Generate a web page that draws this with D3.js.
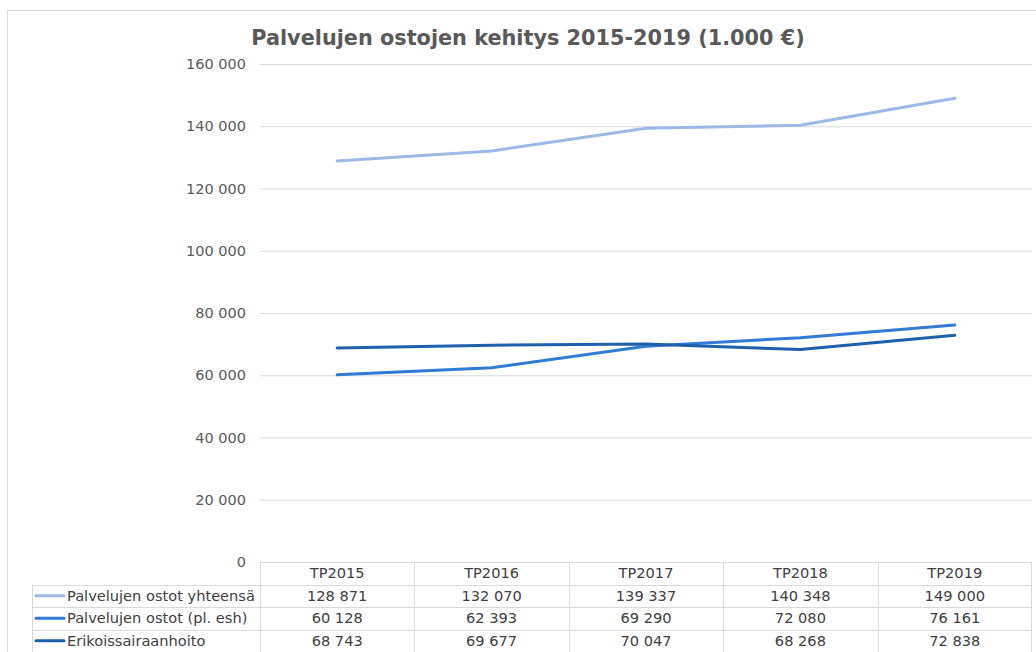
<!DOCTYPE html>
<html>
<head>
<meta charset="utf-8">
<script src="https://cdn.jsdelivr.net/npm/d3@7"></script>
<style>
  body { margin: 0; background: #fff; }
  svg { display: block; font-family: "DejaVu Sans", Verdana, sans-serif; }
</style>
</head>
<body>
<svg id="chart" width="1036" height="652"></svg>
<script>
// data
var years = ["TP2015", "TP2016", "TP2017", "TP2018", "TP2019"];
var seriesNames = ["Palvelujen ostot yhteensä", "Palvelujen ostot (pl. esh)", "Erikoissairaanhoito"];
var yhteensa = [128871, 132070, 139337, 140348, 149000];
var plEsh = [60128, 62393, 69290, 72080, 76161];
var erikois = [68743, 69677, 70047, 68268, 72838];
var seriesColors = ["#9db8e5", "#2f7bd5", "#1f60ad"];
var yTicks = [0, 20000, 40000, 60000, 80000, 100000, 120000, 140000, 160000];

var allSeries = [yhteensa, plEsh, erikois];

var svg = d3.select("#chart");
var plotLeft = 260, plotRight = 1032, plotTop = 64, plotBottom = 562;
var rowH = 22.5;

var fmt = function(v) { return d3.format(",")(v).replace(/,/g, " "); };

// outer frame
svg.append("rect")
   .attr("x", 7.5).attr("y", 10.5)
   .attr("width", 1040).attr("height", 700)
   .attr("fill", "none")
   .attr("stroke", "#d9d9d9");

var x = d3.scaleBand().domain(years).range([plotLeft, plotRight]);
var y = d3.scaleLinear().domain([0, 160000]).range([plotBottom, plotTop]);

// gridlines + tick labels
var yAxis = svg.append("g")
   .attr("transform", "translate(" + plotLeft + ",0)")
   .call(d3.axisLeft(y).tickValues(yTicks).tickSize(-(plotRight - plotLeft)).tickPadding(14).tickFormat(fmt));
yAxis.select(".domain").remove();
yAxis.selectAll(".tick line").attr("stroke", "#d9d9d9");
yAxis.selectAll(".tick text")
     .attr("fill", "#595959")
     .style("font-size", "14.5px")
     .style("font-family", "DejaVu Sans, Verdana, sans-serif");

// title
svg.append("text")
   .attr("x", 528).attr("y", 45)
   .attr("text-anchor", "middle")
   .attr("fill", "#595959")
   .style("font-size", "20.8px")
   .style("font-weight", "bold")
   .text("Palvelujen ostojen kehitys 2015-2019 (1.000 €)");

// lines
var makeLine = d3.line()
   .x(function(d, i) { return x(years[i]) + x.bandwidth() / 2; })
   .y(function(d) { return y(d); });

allSeries.forEach(function(s, k) {
  svg.append("path")
     .datum(s)
     .attr("fill", "none")
     .attr("stroke", seriesColors[k])
     .attr("stroke-width", 3)
     .attr("stroke-linecap", "round")
     .attr("stroke-linejoin", "round")
     .attr("d", makeLine);
});

// data table
var table = svg.append("g").attr("stroke", "#d9d9d9").attr("fill", "none");
var tableBottom = plotBottom + rowH * 4;
// horizontal lines
table.append("line").attr("x1", plotLeft).attr("x2", plotRight)
     .attr("y1", plotBottom + 0.5).attr("y2", plotBottom + 0.5);
d3.range(1, 5).forEach(function(r) {
  var yy = Math.round(plotBottom + rowH * r) + 0.5;
  table.append("line").attr("x1", 32).attr("x2", plotRight)
       .attr("y1", yy).attr("y2", yy);
});
// vertical lines
table.append("line").attr("x1", 32.5).attr("x2", 32.5)
     .attr("y1", plotBottom + rowH).attr("y2", tableBottom);
years.forEach(function(yr) {
  var xx = Math.round(x(yr)) + 0.5;
  table.append("line").attr("x1", xx).attr("x2", xx)
       .attr("y1", plotBottom).attr("y2", tableBottom);
});
table.append("line").attr("x1", plotRight - 0.5).attr("x2", plotRight - 0.5)
     .attr("y1", plotBottom).attr("y2", tableBottom);

var txt = svg.append("g")
   .attr("fill", "#404040")
   .style("font-size", "14.6px");

txt.selectAll(".hdr")
   .data(years)
   .enter().append("text")
   .attr("class", "hdr")
   .attr("x", function(d) { return x(d) + x.bandwidth() / 2; })
   .attr("y", plotBottom + rowH / 2 + 5)
   .attr("text-anchor", "middle")
   .text(function(d) { return d; });

allSeries.forEach(function(s, k) {
  var cy = plotBottom + rowH * (k + 1) + rowH / 2;
  svg.append("line")
     .attr("x1", 36).attr("x2", 64)
     .attr("y1", cy).attr("y2", cy)
     .attr("stroke", seriesColors[k])
     .attr("stroke-width", 3)
     .attr("stroke-linecap", "round");
  txt.append("text")
     .attr("x", 67).attr("y", cy + 5)
     .text(seriesNames[k]);
  txt.selectAll(".v" + k)
     .data(s)
     .enter().append("text")
     .attr("class", "v" + k)
     .attr("x", function(d, i) { return x(years[i]) + x.bandwidth() / 2; })
     .attr("y", cy + 5)
     .attr("text-anchor", "middle")
     .text(function(d) { return fmt(d); });
});
</script>
</body>
</html>
